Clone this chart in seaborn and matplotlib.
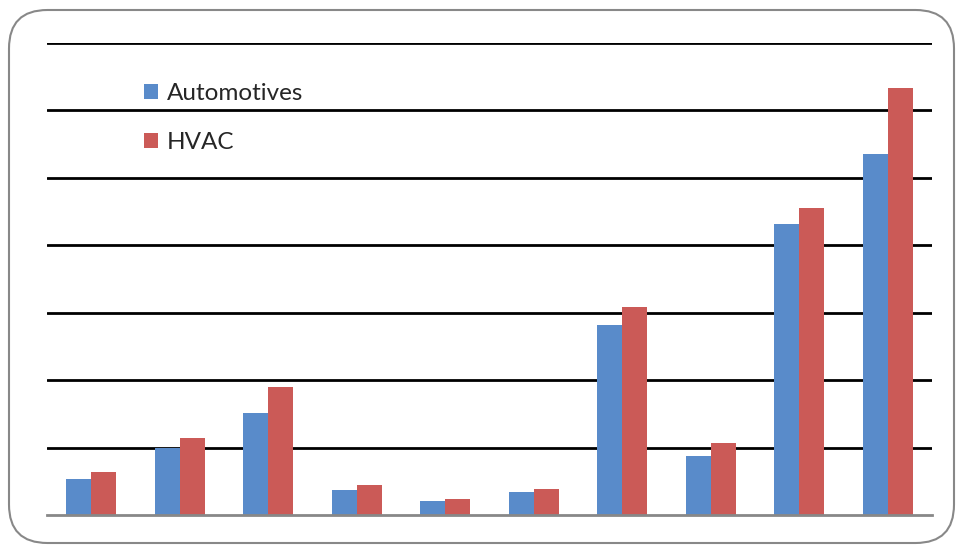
import matplotlib
matplotlib.use("Agg")
import matplotlib.pyplot as plt
import seaborn as sns
import pandas as pd
from matplotlib.patches import FancyBboxPatch

categories = [f"C{i}" for i in range(1, 11)]
automotives = [5.3, 9.9, 15.1, 3.7, 2.1, 3.4, 28.2, 8.8, 43.2, 53.6]
hvac = [6.4, 11.4, 19.0, 4.5, 2.4, 3.9, 30.9, 10.7, 45.5, 63.4]
series_names = ["Automotives", "HVAC"]
colors = ["#598BCA", "#CB5A57"]

df = pd.DataFrame({
    "category": categories * 2,
    "value": automotives + hvac,
    "series": [series_names[0]] * len(categories) + [series_names[1]] * len(categories),
})

sns.set_style("white")
plt.rcParams["font.family"] = ["Lato", "DejaVu Sans"]

fig = plt.figure(figsize=(9.61, 5.46), dpi=100)
ax = fig.add_axes([47 / 961, 1 - 515 / 546, (932 - 47) / 961, (515 - 43) / 546])

sns.barplot(data=df, x="category", y="value", hue="series", palette=colors,
            width=0.565, gap=0, ax=ax, saturation=1, edgecolor="none")

ax.set_xlim(-0.5, 9.5)
ax.set_ylim(0, 70)
ax.set_yticks(range(10, 71, 10))
ax.set_yticklabels([])
ax.set_xticks([])
ax.set_xlabel("")
ax.set_ylabel("")
ax.set_axisbelow(True)
ax.yaxis.grid(True, color="black", linewidth=2)
ax.tick_params(left=False, bottom=False)
for s in ["top", "right", "left"]:
    ax.spines[s].set_visible(False)
ax.spines["bottom"].set_color("#888888")
ax.spines["bottom"].set_linewidth(2)
ax.spines["bottom"].set_zorder(5)

handles, labels = ax.get_legend_handles_labels()
ax.legend(handles, labels, loc="upper left", bbox_to_anchor=(0.0985, 0.936),
          frameon=False, fontsize=17.5, handlelength=0.6, handleheight=0.6,
          handletextpad=0.35, labelspacing=1.15, borderaxespad=0)

border = FancyBboxPatch((9 / 961, 3 / 546), (954 - 9) / 961, (536 - 3) / 546,
                        boxstyle="round,pad=0,rounding_size=0.04",
                        transform=fig.transFigure, facecolor="none",
                        edgecolor="#888888", linewidth=1.5, mutation_aspect=961 / 546)
fig.patches.append(border)

fig.savefig("out.png", dpi=100)
